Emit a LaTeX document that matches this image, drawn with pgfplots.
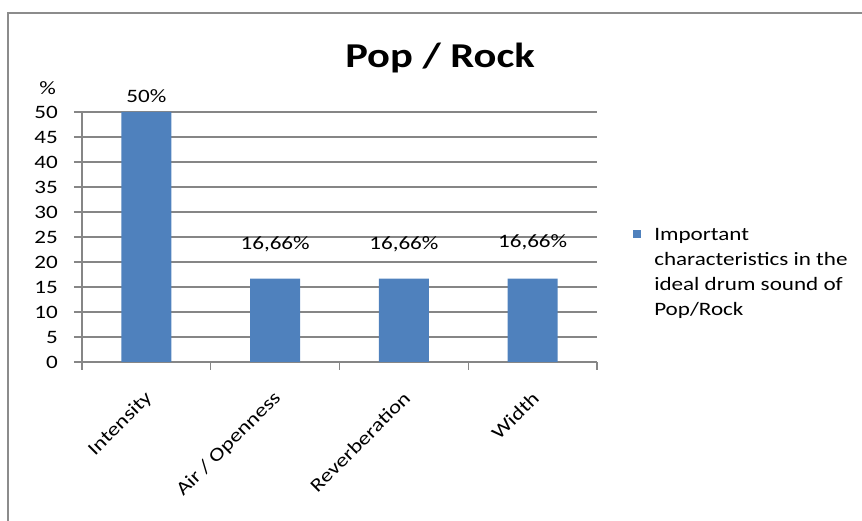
\documentclass[border=0pt]{standalone}
\usepackage{pgfplots}
\pgfplotsset{compat=1.18}
\usepackage{fontspec}
\setmainfont{Carlito}[FakeStretch=1.22]
\definecolor{barblue}{HTML}{4F81BD}
\definecolor{gridgray}{HTML}{868686}
\definecolor{bordergray}{HTML}{8C8C8C}
\newcommand{\lblfont}{\fontsize{19}{25}\selectfont}
\begin{document}
\begin{tikzpicture}[x=1bp,y=1bp]
\useasboundingbox (0,0) rectangle (862,521);
\draw[bordergray, line width=1.5bp] (8,-2) -- (8,508) -- (864,508);
\node[font=\bfseries\fontsize{35}{40}\selectfont, anchor=base] at (440,453) {Pop / Rock};
\node[font=\lblfont, anchor=east, inner sep=0pt] at (56,433) {\%};
\begin{axis}[
  at={(82bp,159bp)}, anchor=south west,
  scale only axis, width=515bp, height=250bp,
  clip=false,
  xmin=-0.5, xmax=3.5, ymin=0, ymax=50,
  axis x line*=bottom, axis y line*=left,
  axis line style={draw=gridgray, line width=1.2bp, -},
  ytick={0,5,...,50},
  ymajorgrids, grid style={draw=gridgray, line width=1.2bp},
  xtick={0,1,2,3},
  xticklabels={Intensity, Air / Openness, Reverberation, Width},
  minor xtick={-0.5,0.5,1.5,2.5,3.5},
  major x tick style={draw=none},
  minor x tick style={draw=gridgray, line width=1.2bp},
  y tick style={draw=gridgray, line width=1.2bp},
  tick align=outside,
  major tick length=8bp, minor tick length=8bp,
  /pgf/number format/assume math mode=true,
  tick label style={font=\lblfont},
  yticklabel style={anchor=east, inner sep=0pt, xshift=-16bp},
  xticklabel style={inner sep=0pt, anchor=east, xshift=3bp, yshift=-25bp, rotate=45},
  legend style={at={(axis description cs:1.07,0.544)}, anchor=north west, draw=none, fill=none, inner sep=0pt, font=\lblfont, cells={align=left, anchor=west}},
]
\addplot[ybar, bar width=0.39, fill=barblue, draw=none,
  legend image code/.code={\path[draw=none, fill=none] (0bp,-4bp) rectangle (19bp,4bp); \fill[barblue, overlay] (0bp,34bp) rectangle (8bp,42bp);}]
  coordinates {(0,50) (1,16.66) (2,16.66) (3,16.66)};
\addlegendentry{Important\\characteristics in the\\ideal drum sound of\\Pop/Rock}
\node[font=\lblfont, anchor=base] at (axis cs:0,51.8) {50\%};
\node[font=\lblfont, anchor=base] at (axis cs:1,22.4) {16,66\%};
\node[font=\lblfont, anchor=base] at (axis cs:2,22.4) {16,66\%};
\node[font=\lblfont, anchor=base] at (axis cs:3,22.8) {16,66\%};
\end{axis}
\end{tikzpicture}
\end{document}
